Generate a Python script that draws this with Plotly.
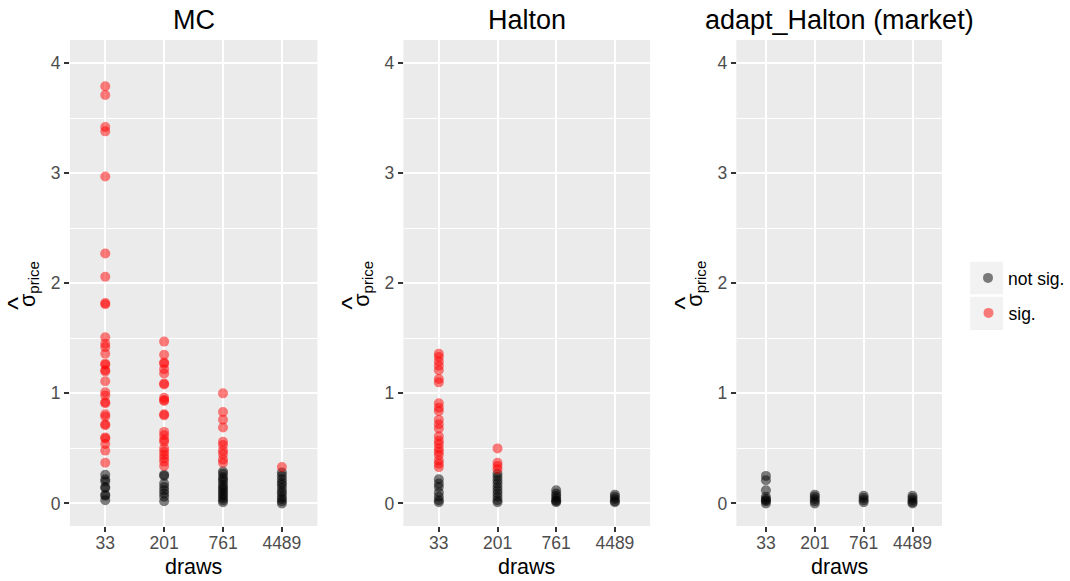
import plotly.graph_objects as go

W, H = 1070, 581

draws = ["33", "201", "761", "4489"]
methods = ["MC", "Halton", "adapt_Halton (market)"]
legend_labels = ["not sig.", "sig."]

# values per draw level (same order as `draws`)
mc_sig = [
    [3.79, 3.71, 3.42, 3.38, 2.97, 2.27, 2.06, 1.82, 1.81, 1.51, 1.45, 1.42, 1.36, 1.27, 1.26,
     1.21, 1.20, 1.11, 1.01, 0.98, 0.92, 0.91, 0.81, 0.79, 0.72, 0.71, 0.60, 0.59, 0.54, 0.48, 0.37],
    [1.47, 1.35, 1.28, 1.27, 1.22, 1.18, 1.09, 1.08, 0.96, 0.94, 0.93, 0.81, 0.80, 0.65, 0.62,
     0.58, 0.56, 0.50, 0.47, 0.44, 0.41, 0.38, 0.34],
    [1.00, 0.83, 0.76, 0.69, 0.56, 0.53, 0.48, 0.45, 0.40, 0.37],
    [0.33],
]
mc_notsig = [
    [0.26, 0.22, 0.20, 0.15, 0.14, 0.08, 0.07, 0.03],
    [0.26, 0.25, 0.18, 0.15, 0.12, 0.09, 0.06, 0.02],
    [0.29, 0.27, 0.24, 0.22, 0.20, 0.17, 0.15, 0.13, 0.11, 0.09, 0.07, 0.05, 0.03, 0.01],
    [0.28, 0.25, 0.22, 0.19, 0.17, 0.14, 0.11, 0.09, 0.06, 0.04, 0.02, 0.00],
]
halton_sig = [
    [1.36, 1.33, 1.29, 1.25, 1.21, 1.13, 1.10, 0.91, 0.87, 0.84, 0.76, 0.72, 0.68, 0.61, 0.57,
     0.54, 0.50, 0.47, 0.44, 0.39, 0.36, 0.33],
    [0.50, 0.37, 0.34, 0.31],
    [],
    [],
]
halton_notsig = [
    [0.22, 0.18, 0.15, 0.10, 0.06, 0.03, 0.01],
    [0.27, 0.24, 0.21, 0.18, 0.15, 0.12, 0.09, 0.06, 0.03, 0.01],
    [0.12, 0.09, 0.07, 0.05, 0.03, 0.02, 0.01],
    [0.08, 0.06, 0.04, 0.02, 0.01],
]
adapt_sig = [[], [], [], []]
adapt_notsig = [
    [0.25, 0.21, 0.12, 0.06, 0.04, 0.03, 0.02, 0.00],
    [0.08, 0.06, 0.04, 0.02, 0.00],
    [0.07, 0.05, 0.03, 0.01],
    [0.07, 0.05, 0.03, 0.01, 0.00],
]

y_ticks = [0, 1, 2, 3, 4]

FONT = "Liberation Sans, Arial, sans-serif"
PANEL_BG = "#EBEBEB"

# panel geometry in pixels (left, right), shared top/bottom
panels_px = [(70.0, 317.5), (404.0, 650.7), (737.3, 942.7)]
top_px, bottom_px = 40.0, 526.0


def px_x(p):
    return p / W


def px_y(p):
    return 1 - p / H


fig = go.Figure()

data_sets = [(mc_notsig, mc_sig), (halton_notsig, halton_sig), (adapt_notsig, adapt_sig)]
colors = ["black", "red"]
legend_ids = ["legend", "legend2"]

for i, (ns, s) in enumerate(data_sets):
    ax = "" if i == 0 else str(i + 1)
    for k, group in enumerate([ns, s]):
        xs, ys = [], []
        for d, vals in zip(draws, group):
            xs += [d] * len(vals)
            ys += vals
        fig.add_trace(go.Scatter(
            x=xs, y=ys, mode="markers",
            xaxis="x" + ax, yaxis="y" + ax,
            name=legend_labels[k],
            legend=legend_ids[k],
            showlegend=(i == 0),
            marker=dict(color=colors[k], size=10, opacity=0.5, line=dict(width=0)),
            hoverinfo="skip",
        ))

layout = dict(
    width=W, height=H,
    margin=dict(l=0, r=0, t=0, b=0),
    paper_bgcolor="white",
    plot_bgcolor=PANEL_BG,
    font=dict(family=FONT, size=17.5, color="#4D4D4D"),
)

annotations = []
shapes = []
for i, (l, r) in enumerate(panels_px):
    ax = "" if i == 0 else str(i + 1)
    layout["xaxis" + ax] = dict(
        domain=[px_x(l), px_x(r)],
        anchor="y" + ax,
        type="category",
        categoryorder="array", categoryarray=draws,
        range=[-0.6, 3.6],
        showgrid=True, gridcolor="white", gridwidth=2.4,
        zeroline=False, showline=False,
        ticks="outside", ticklen=5, tickwidth=1.6, tickcolor="#333333",
        ticklabelstandoff=-4,
        tickfont=dict(family=FONT, size=17.5, color="#4D4D4D"),
        automargin=False, fixedrange=True,
    )
    layout["yaxis" + ax] = dict(
        domain=[px_y(bottom_px), px_y(top_px)],
        anchor="x" + ax,
        range=[-0.205, 4.21],
        tickvals=y_ticks, ticktext=[str(t) for t in y_ticks],
        showgrid=True, gridcolor="white", gridwidth=2.4,
        minor=dict(tickvals=[0.5, 1.5, 2.5, 3.5], showgrid=True, gridcolor="white",
                   gridwidth=1.2, ticks=""),
        zeroline=False, showline=False,
        ticks="outside", ticklen=5, tickwidth=1.6, tickcolor="#333333",
        tickfont=dict(family=FONT, size=17.5, color="#4D4D4D"),
        automargin=False, fixedrange=True,
    )
    shapes.append(dict(type="rect", xref="paper", yref="paper",
                       x0=px_x(l), x1=px_x(r), y0=px_y(bottom_px), y1=px_y(top_px),
                       fillcolor=PANEL_BG, line=dict(width=0), layer="below"))
    cx = (l + r) / 2
    annotations.append(dict(text=methods[i], xref="paper", yref="paper",
                            x=px_x(cx), y=px_y(20), xanchor="center", yanchor="middle",
                            showarrow=False, font=dict(family=FONT, size=27, color="black")))
    annotations.append(dict(text="draws", xref="paper", yref="paper",
                            x=px_x(cx), y=px_y(567), xanchor="center", yanchor="middle",
                            showarrow=False, font=dict(family=FONT, size=21.5, color="black")))
    # y-axis title: sigma with subscript, plus a separate hat above it
    annotations.append(dict(text="σ<sub>price</sub>", xref="paper", yref="paper",
                            x=px_x(l - 41), y=px_y(284), xanchor="center", yanchor="middle",
                            textangle=-90,
                            showarrow=False, font=dict(family=FONT, size=21.5, color="black")))
    annotations.append(dict(text="^", xref="paper", yref="paper",
                            x=px_x(l - 52), y=px_y(303), xanchor="center", yanchor="middle",
                            textangle=-90,
                            showarrow=False, font=dict(family=FONT, size=28, color="black")))

for (y0, y1) in [(261.7, 294.3), (296.7, 330.0)]:
    shapes.append(dict(type="rect", xref="paper", yref="paper",
                       x0=px_x(971), x1=px_x(1004), y0=px_y(y1), y1=px_y(y0),
                       fillcolor="#F2F2F2", line=dict(width=0), layer="below"))

leg_common = dict(bgcolor="rgba(0,0,0,0)", borderwidth=0,
                  font=dict(family=FONT, size=17.5, color="black"),
                  xanchor="left", yanchor="middle", itemsizing="trace")
layout["legend"] = dict(x=px_x(968.5), y=px_y(278), **leg_common)
layout["legend2"] = dict(x=px_x(968.5), y=px_y(313), **leg_common)
layout["annotations"] = annotations
layout["shapes"] = shapes

fig.update_layout(**layout)
fig.write_html("out.html", post_script="document.body.style.margin='0px';",
               config={"displayModeBar": False})
